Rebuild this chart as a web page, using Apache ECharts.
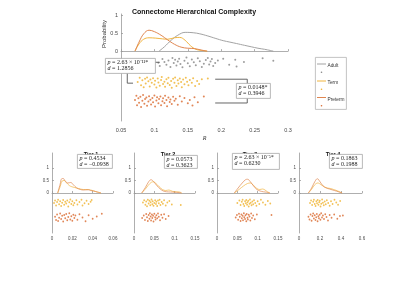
<!DOCTYPE html>
<html>
<head>
<meta charset="utf-8">
<script src="https://cdn.jsdelivr.net/npm/echarts@6/dist/echarts.min.js"></script>
<style>
  html, body { margin: 0; padding: 0; background: #fff; }
  #chart { width: 400px; height: 281px; }
</style>
</head>
<body>
<div id="chart"></div>
<script>
// ---- main panel: density curves [R, probability] ----
const adultCurve = [[0.107,0],[0.115,0.12],[0.125,0.3],[0.135,0.44],[0.146,0.52],[0.158,0.51],[0.168,0.48],[0.18,0.42],[0.192,0.35],[0.203,0.29],[0.213,0.25],[0.223,0.21],[0.235,0.16],[0.245,0.12],[0.255,0.08],[0.265,0.05],[0.278,0]];
const termCurve = [[0.071,0],[0.077,0.2],[0.084,0.33],[0.092,0.37],[0.102,0.36],[0.112,0.34],[0.12,0.33],[0.13,0.37],[0.138,0.38],[0.146,0.3],[0.154,0.15],[0.162,0.05],[0.17,0.02],[0.179,0]];
const pretermCurve = [[0.071,0],[0.077,0.25],[0.084,0.48],[0.092,0.58],[0.1,0.54],[0.11,0.44],[0.12,0.31],[0.13,0.19],[0.14,0.11],[0.15,0.08],[0.16,0.07],[0.17,0.03],[0.179,0]];

// ---- main panel: jittered points [R, row offset] ----
const adultPts = [[0.106,-0.32],[0.108,-0.41],[0.112,-0.22],[0.115,-0.30],[0.118,-0.38],[0.121,-0.26],[0.124,-0.44],[0.127,-0.19],[0.129,-0.33],[0.131,-0.24],[0.133,-0.40],[0.135,-0.29],[0.137,-0.21],[0.139,-0.36],[0.142,-0.45],[0.145,-0.27],[0.148,-0.18],[0.150,-0.34],[0.153,-0.42],[0.156,-0.23],[0.159,-0.31],[0.162,-0.39],[0.165,-0.20],[0.168,-0.28],[0.171,-0.44],[0.174,-0.35],[0.177,-0.25],[0.180,-0.19],[0.182,-0.37],[0.184,-0.29],[0.186,-0.22],[0.188,-0.41],[0.191,-0.33],[0.195,-0.26],[0.203,-0.21],[0.212,-0.38],[0.221,-0.24],[0.223,-0.43],[0.234,-0.30],[0.262,-0.20],[0.278,-0.27]];
const termPts = [[0.075,-0.86],[0.078,-0.74],[0.080,-0.95],[0.082,-0.81],[0.084,-1.00],[0.086,-0.77],[0.087,-0.90],[0.089,-0.73],[0.091,-0.84],[0.093,-0.98],[0.094,-0.79],[0.096,-0.88],[0.098,-0.75],[0.100,-0.93],[0.101,-0.82],[0.103,-1.01],[0.105,-0.76],[0.106,-0.87],[0.108,-0.96],[0.110,-0.80],[0.111,-0.72],[0.113,-0.91],[0.115,-0.85],[0.116,-0.99],[0.118,-0.78],[0.120,-0.89],[0.121,-0.74],[0.123,-0.94],[0.125,-0.83],[0.126,-1.02],[0.128,-0.77],[0.130,-0.88],[0.131,-0.73],[0.133,-0.97],[0.135,-0.81],[0.136,-0.90],[0.138,-0.76],[0.140,-0.86],[0.141,-1.00],[0.143,-0.79],[0.145,-0.92],[0.147,-0.74],[0.149,-0.85],[0.151,-0.95],[0.153,-0.80],[0.156,-0.88],[0.158,-0.75],[0.161,-0.97],[0.164,-0.83],[0.167,-0.91],[0.171,-0.78],[0.180,-0.76]];
const pretermPts = [[0.071,-1.36],[0.073,-1.24],[0.074,-1.50],[0.076,-1.31],[0.077,-1.43],[0.079,-1.27],[0.080,-1.55],[0.082,-1.38],[0.083,-1.22],[0.085,-1.46],[0.086,-1.33],[0.088,-1.29],[0.089,-1.52],[0.091,-1.40],[0.092,-1.25],[0.094,-1.35],[0.095,-1.48],[0.097,-1.30],[0.098,-1.42],[0.100,-1.23],[0.101,-1.54],[0.103,-1.37],[0.104,-1.28],[0.106,-1.45],[0.107,-1.33],[0.109,-1.26],[0.110,-1.50],[0.112,-1.39],[0.113,-1.31],[0.115,-1.44],[0.116,-1.24],[0.118,-1.36],[0.119,-1.53],[0.121,-1.29],[0.123,-1.41],[0.124,-1.34],[0.126,-1.47],[0.128,-1.27],[0.130,-1.38],[0.132,-1.32],[0.135,-1.49],[0.138,-1.25],[0.141,-1.40],[0.145,-1.30],[0.150,-1.45],[0.153,-1.36],[0.157,-1.51],[0.160,-1.28],[0.165,-1.42],[0.174,-1.26]];

// significance brackets (adult-term, term-preterm)
const bracketAT = [[0.108,-0.31],[0.0594,-0.31],[0.0594,-0.89],[0.068,-0.89]];
const bracketTP = [[0.191,-0.78],[0.239,-0.78],[0.239,-1.44],[0.191,-1.44]];

// ---- tier panels ----
const tierNames = ['Tier 1', 'Tier 2', 'Tier 3', 'Tier 4'];
const tierP = ['0.4534', '0.0573', '2.63 × 10⁻⁵*', '0.1863'];
const tierD = ['−0.0938', '0.3623', '0.6230', '0.1988'];
const tierXMax = [0.06, 0.15, 0.15, 0.6];
const tierXStep = [0.02, 0.05, 0.05, 0.2];

const tierTermCurves = [
  [[0.0056,0],[0.008,0.25],[0.010,0.48],[0.012,0.5],[0.014,0.42],[0.017,0.3],[0.0195,0.25],[0.0243,0.2],[0.028,0.16],[0.0308,0.14],[0.0357,0.14],[0.038,0.12],[0.0407,0.09],[0.0445,0.04],[0.0482,0]],
  [[0.019,0],[0.030,0.2],[0.039,0.38],[0.047,0.45],[0.054,0.38],[0.062,0.25],[0.070,0.14],[0.078,0.1],[0.086,0.12],[0.094,0.07],[0.104,0.05],[0.112,0.04],[0.117,0]],
  [[0.0425,0],[0.055,0.15],[0.065,0.28],[0.075,0.38],[0.082,0.4],[0.090,0.3],[0.098,0.18],[0.105,0.14],[0.112,0.16],[0.118,0.12],[0.124,0.05],[0.130,0]],
  [[0.089,0],[0.12,0.15],[0.15,0.33],[0.18,0.4],[0.21,0.33],[0.24,0.25],[0.27,0.2],[0.30,0.18],[0.33,0.14],[0.37,0.08],[0.41,0]]
];
const tierPretermCurves = [
  [[0.0056,0],[0.008,0.35],[0.0095,0.57],[0.011,0.58],[0.013,0.48],[0.0155,0.40],[0.0184,0.42],[0.021,0.33],[0.0243,0.2],[0.028,0.14],[0.0308,0.12],[0.0357,0.13],[0.038,0.1],[0.0407,0.08],[0.0445,0.04],[0.0482,0]],
  [[0.019,0],[0.028,0.22],[0.036,0.45],[0.042,0.53],[0.048,0.46],[0.056,0.3],[0.064,0.17],[0.072,0.08],[0.080,0.05],[0.090,0.04],[0.100,0.03],[0.108,0.02],[0.117,0]],
  [[0.0425,0],[0.052,0.2],[0.062,0.4],[0.070,0.53],[0.075,0.55],[0.082,0.45],[0.090,0.28],[0.098,0.14],[0.106,0.08],[0.114,0.05],[0.122,0.03],[0.130,0]],
  [[0.089,0],[0.12,0.2],[0.15,0.45],[0.175,0.57],[0.20,0.45],[0.23,0.28],[0.26,0.2],[0.29,0.16],[0.32,0.12],[0.36,0.07],[0.41,0]]
];
const tierTermPts = [
  [[0.002,-0.40],[0.003,-0.30],[0.004,-0.50],[0.005,-0.36],[0.006,-0.27],[0.007,-0.45],[0.008,-0.33],[0.009,-0.52],[0.010,-0.39],[0.011,-0.28],[0.012,-0.47],[0.013,-0.35],[0.014,-0.42],[0.015,-0.30],[0.016,-0.54],[0.017,-0.37],[0.018,-0.26],[0.019,-0.44],[0.020,-0.33],[0.021,-0.49],[0.022,-0.40],[0.024,-0.29],[0.025,-0.46],[0.027,-0.36],[0.029,-0.27],[0.030,-0.50],[0.032,-0.41],[0.034,-0.31],[0.036,-0.44],[0.038,-0.35],[0.039,-0.28]],
  [[0.022,-0.38],[0.025,-0.29],[0.028,-0.47],[0.030,-0.34],[0.032,-0.53],[0.034,-0.27],[0.036,-0.42],[0.038,-0.31],[0.040,-0.49],[0.041,-0.37],[0.043,-0.26],[0.045,-0.45],[0.046,-0.33],[0.048,-0.51],[0.050,-0.40],[0.052,-0.29],[0.054,-0.44],[0.055,-0.35],[0.057,-0.52],[0.059,-0.30],[0.061,-0.41],[0.063,-0.27],[0.065,-0.48],[0.068,-0.36],[0.071,-0.43],[0.074,-0.29],[0.078,-0.50],[0.082,-0.38],[0.087,-0.32],[0.093,-0.46],[0.115,-0.48]],
  [[0.050,-0.40],[0.055,-0.30],[0.058,-0.48],[0.061,-0.35],[0.063,-0.27],[0.065,-0.44],[0.067,-0.52],[0.069,-0.33],[0.071,-0.41],[0.072,-0.28],[0.074,-0.47],[0.075,-0.37],[0.077,-0.31],[0.078,-0.54],[0.080,-0.43],[0.081,-0.26],[0.083,-0.39],[0.085,-0.49],[0.087,-0.34],[0.089,-0.45],[0.091,-0.29],[0.094,-0.40],[0.097,-0.51],[0.100,-0.33],[0.104,-0.44],[0.108,-0.27],[0.113,-0.38],[0.119,-0.47],[0.125,-0.32],[0.131,-0.42]],
  [[0.105,-0.40],[0.115,-0.30],[0.125,-0.48],[0.135,-0.35],[0.142,-0.27],[0.150,-0.44],[0.158,-0.52],[0.165,-0.33],[0.172,-0.41],[0.178,-0.28],[0.185,-0.47],[0.192,-0.37],[0.198,-0.31],[0.205,-0.54],[0.212,-0.43],[0.220,-0.26],[0.228,-0.39],[0.236,-0.49],[0.245,-0.34],[0.255,-0.45],[0.265,-0.29],[0.278,-0.40],[0.292,-0.51],[0.305,-0.33],[0.320,-0.44],[0.338,-0.27],[0.355,-0.38],[0.372,-0.47],[0.392,-0.32]]
];
const tierPretermPts = [
  [[0.003,-0.95],[0.004,-1.08],[0.005,-0.86],[0.006,-1.12],[0.007,-0.99],[0.008,-0.82],[0.009,-1.04],[0.010,-0.91],[0.011,-1.14],[0.012,-0.88],[0.013,-1.01],[0.014,-0.84],[0.015,-1.09],[0.016,-0.96],[0.017,-0.81],[0.018,-1.06],[0.019,-0.93],[0.020,-1.11],[0.021,-0.87],[0.022,-1.00],[0.023,-0.90],[0.025,-1.07],[0.027,-0.85],[0.030,-0.98],[0.033,-1.13],[0.036,-0.89],[0.040,-1.03],[0.044,-0.94],[0.049,-0.83]],
  [[0.020,-1.00],[0.024,-0.90],[0.027,-1.08],[0.030,-0.84],[0.032,-0.97],[0.034,-1.12],[0.036,-0.88],[0.038,-1.03],[0.039,-0.81],[0.041,-0.94],[0.042,-1.10],[0.044,-0.86],[0.045,-1.00],[0.047,-0.91],[0.048,-1.14],[0.050,-0.83],[0.052,-0.97],[0.053,-1.06],[0.055,-0.89],[0.057,-1.01],[0.059,-0.82],[0.061,-0.95],[0.064,-1.09],[0.067,-0.87],[0.070,-0.99],[0.074,-0.85],[0.078,-1.04],[0.085,-0.92]],
  [[0.046,-0.98],[0.049,-0.88],[0.052,-1.07],[0.054,-0.83],[0.056,-0.95],[0.058,-1.12],[0.060,-0.86],[0.061,-1.01],[0.063,-0.91],[0.064,-1.09],[0.066,-0.81],[0.067,-0.97],[0.069,-1.04],[0.070,-0.89],[0.072,-1.13],[0.073,-0.84],[0.075,-0.99],[0.076,-1.06],[0.078,-0.87],[0.080,-0.94],[0.082,-1.10],[0.084,-0.82],[0.086,-1.00],[0.089,-0.90],[0.093,-1.05],[0.098,-0.86],[0.134,-0.88]],
  [[0.090,-0.95],[0.100,-1.06],[0.110,-0.86],[0.120,-1.11],[0.128,-0.92],[0.135,-0.82],[0.142,-1.02],[0.150,-0.89],[0.157,-1.08],[0.164,-0.97],[0.170,-0.84],[0.177,-1.13],[0.184,-0.93],[0.190,-1.01],[0.197,-0.87],[0.204,-1.07],[0.211,-0.81],[0.219,-0.98],[0.228,-0.90],[0.238,-1.04],[0.250,-0.85],[0.262,-0.96],[0.276,-1.10],[0.292,-0.88],[0.310,-0.99],[0.335,-0.86],[0.365,-1.03],[0.390,-0.92],[0.418,-0.90]]
];

const C = {
  adultLine: '#a3a3a3', adultDot: '#858585',
  termLine: '#f1b53f', termDot: '#efb12c',
  pretLine: '#e08650', pretDot: '#d9692e',
  axis: '#9a9a9a', label: '#4a4a4a'
};
const SANS = 'Liberation Sans';
const SERIF = 'Liberation Serif';

const chart = echarts.init(document.getElementById('chart'), null, { renderer: 'canvas' });

function xAxisCfg(grid, max, step, margin, fontSize) {
  return {
    type: 'value', gridIndex: grid, min: 0, max: max, interval: step,
    axisLine: { show: true, lineStyle: { color: C.axis, width: 0.8 } },
    axisTick: { show: true, inside: true, length: 2, lineStyle: { color: C.axis, width: 0.8 } },
    axisLabel: { fontSize: fontSize, color: C.label, margin: margin, fontFamily: SANS },
    splitLine: { show: false }
  };
}
function yAxisCfg(grid, min, max, fontSize) {
  return {
    type: 'value', gridIndex: grid, min: min, max: max,
    axisLine: { show: true, lineStyle: { color: C.axis, width: 0.8 } },
    axisTick: { show: true, inside: true, length: 2, customValues: [0, 0.5, 1], lineStyle: { color: C.axis, width: 0.8 } },
    axisLabel: { fontSize: fontSize, color: C.label, margin: 3, fontFamily: SANS, customValues: [0, 0.5, 1] },
    splitLine: { show: false }
  };
}
function lineSeries(name, data, xi, color, width) {
  return { name: name, type: 'line', xAxisIndex: xi, yAxisIndex: xi, data: data, smooth: 0.4,
    symbol: 'none', lineStyle: { color: color, width: width }, silent: true, z: 3 };
}
function dotSeries(name, data, xi, color, size) {
  return { name: name, type: 'scatter', xAxisIndex: xi, yAxisIndex: xi, data: data,
    symbolSize: size, itemStyle: { color: color }, silent: true, z: 2 };
}
function statBox(x, y, w, h, p, d) {
  const txt = '{i|p} = ' + p + '\n{i|d} = ' + d;
  return [
    { type: 'rect', left: x, top: y, z: 100, shape: { width: w, height: h },
      style: { fill: '#fff', stroke: '#a8a8a8', lineWidth: 0.8 } },
    { type: 'text', left: x + 2.5, top: y + 1, z: 101,
      style: { text: txt, fontSize: 6, fontFamily: SERIF, fill: '#222', lineHeight: 6.5,
        rich: { i: { fontStyle: 'italic', fontSize: 6, fontFamily: SERIF, fill: '#222', lineHeight: 6.5 } } } }
  ];
}

const tierLeft = [52, 134, 217, 299];
const tierWidth = [61, 61, 61, 63];
const tierTitleX = [86, 163, 245, 328];
const tierBox = [[77, 154, 35, 14], [164, 155, 33, 13], [232, 153, 47, 16], [329, 154, 33, 14]];

const grids = [{ left: 121, top: 14, width: 167, height: 107 }];
const xAxes = [xAxisCfg(0, 0.3, 0.05, 6, 5.5)];
xAxes[0].min = 0.05;
xAxes[0].name = 'R';
xAxes[0].nameLocation = 'middle';
xAxes[0].nameGap = 14;
xAxes[0].nameTextStyle = { fontSize: 6, fontStyle: 'italic', fontFamily: SERIF, color: '#333' };
const yAxes = [yAxisCfg(0, -1.94, 1.03, 5.5)];

const series = [
  lineSeries('Adult', adultCurve, 0, C.adultLine, 1),
  lineSeries('Term', termCurve, 0, C.termLine, 1),
  lineSeries('Preterm', pretermCurve, 0, C.pretLine, 1),
  dotSeries('Adult pts', adultPts, 0, C.adultDot, 2),
  dotSeries('Term pts', termPts, 0, C.termDot, 2),
  dotSeries('Preterm pts', pretermPts, 0, C.pretDot, 2),
  { type: 'line', xAxisIndex: 0, yAxisIndex: 0, data: bracketAT, symbol: 'none', silent: true,
    lineStyle: { color: '#555', width: 0.9 }, z: 4 },
  { type: 'line', xAxisIndex: 0, yAxisIndex: 0, data: bracketTP, symbol: 'none', silent: true,
    lineStyle: { color: '#555', width: 0.9 }, z: 4 }
];

const titles = [{ text: 'Connectome Hierarchical Complexity', left: 189, top: 4, textAlign: 'center',
  textStyle: { fontSize: 7, fontWeight: 'bold', color: '#111', fontFamily: SANS } }];

let graphics = [];
graphics = graphics.concat(statBox(105, 58, 50, 15, '2.63 × 10⁻¹¹*', '1.2856'));
graphics = graphics.concat(statBox(236, 83, 34, 15, '0.0148*', '0.3946'));

for (let i = 0; i < 4; i++) {
  const g = i + 1;
  grids.push({ left: tierLeft[i], top: 153, width: tierWidth[i], height: 80 });
  xAxes.push(xAxisCfg(g, tierXMax[i], tierXStep[i], 3, 4.5));
  yAxes.push(yAxisCfg(g, -1.6, 1.6, 4.5));
  series.push(lineSeries('Term ' + g, tierTermCurves[i], g, C.termLine, 0.7));
  series.push(lineSeries('Preterm ' + g, tierPretermCurves[i], g, C.pretLine, 0.7));
  series.push(dotSeries('Term pts ' + g, tierTermPts[i], g, C.termDot, 1.8));
  series.push(dotSeries('Preterm pts ' + g, tierPretermPts[i], g, C.pretDot, 1.8));
  titles.push({ text: tierNames[i], left: tierTitleX[i], top: 146, textAlign: 'center',
    textStyle: { fontSize: 5.5, fontWeight: 'bold', color: '#111', fontFamily: SANS } });
  const b = tierBox[i];
  graphics = graphics.concat(statBox(b[0], b[1], b[2], b[3], tierP[i], tierD[i]));
}

// y-axis name of the density part
graphics.push({ type: 'text', x: 101, y: 34, rotation: Math.PI / 2, z: 50,
  style: { text: 'Probability', fontSize: 6, fontFamily: SANS, fill: '#333', align: 'center', verticalAlign: 'top' } });

// legend box (lines plus point markers)
const legendItems = [['Adult', C.adultLine, C.adultDot, 64], ['Term', C.termLine, C.termDot, 81], ['Preterm', C.pretLine, C.pretDot, 97.5]];
graphics.push({ type: 'rect', left: 315, top: 57, z: 100, shape: { width: 31, height: 52 },
  style: { fill: '#fff', stroke: '#b5b5b5', lineWidth: 0.8 } });
legendItems.forEach(function (it) {
  graphics.push({ type: 'line', z: 101, shape: { x1: 317, y1: it[3], x2: 326, y2: it[3] },
    style: { stroke: it[1], lineWidth: 1 } });
  graphics.push({ type: 'circle', z: 101, shape: { cx: 321.5, cy: it[3] + 8.3, r: 0.8 },
    style: { fill: it[2] } });
  graphics.push({ type: 'text', x: 327.5, y: it[3] + 2, z: 101,
    style: { text: it[0], fontSize: 4.8, fontFamily: SANS, fill: '#333', verticalAlign: 'middle' } });
});

chart.setOption({
  animation: false,
  backgroundColor: '#fff',
  title: titles,
  grid: grids,
  xAxis: xAxes,
  yAxis: yAxes,
  series: series,
  graphic: graphics
});
</script>
</body>
</html>
